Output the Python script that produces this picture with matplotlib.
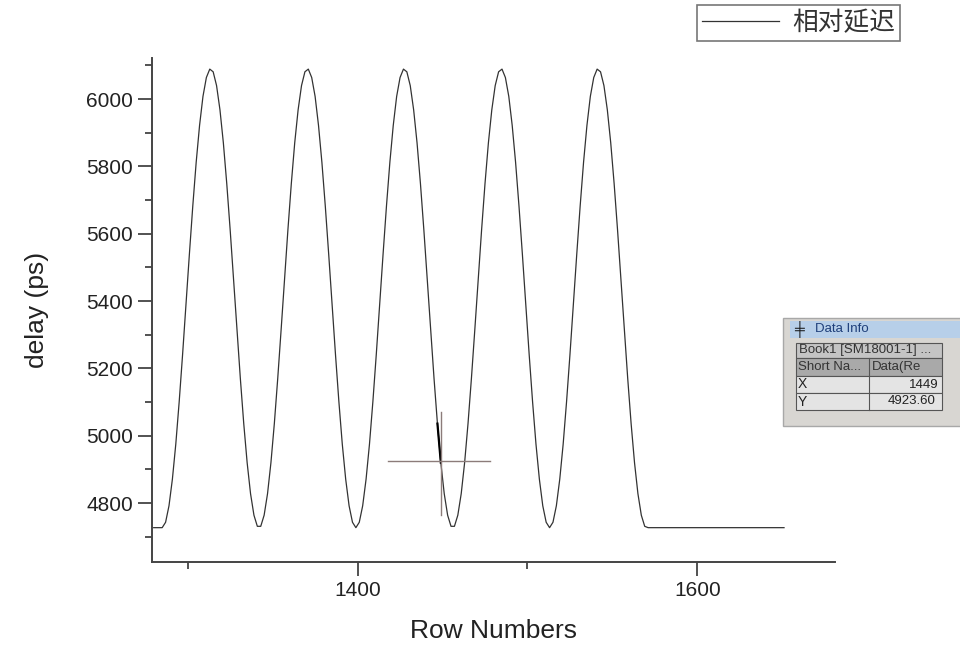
import numpy as np
import matplotlib
matplotlib.use("Agg")
import matplotlib.pyplot as plt
from matplotlib.patches import Rectangle
from matplotlib.lines import Line2D

plt.rcParams['font.family'] = ['Liberation Sans', 'Noto Sans CJK SC', 'DejaVu Sans']

# flat part before / after the oscillation
rows_start = [1280]
delay_start = [4727]
rows_end = [1571, 1651]
delay_end = [4727, 4727]

# oscillating part, every 2nd row from 1285 to 1569
rows_osc = np.arange(1285, 1571, 2)
delay_osc = [
    4727, 4743, 4792, 4871, 4975, 5101, 5241, 5390, 5539, 5682, 5812, 5922, 6008, 6064, 6089,
    6081, 6040, 5968, 5870, 5749, 5612, 5465, 5315, 5170, 5036, 4920, 4828, 4764, 4731,
    4731, 4764, 4828, 4920, 5036, 5170, 5315, 5465, 5612, 5749, 5870, 5968, 6040, 6081,
    6089, 6064, 6008, 5922, 5812, 5682, 5539, 5390, 5241, 5101, 4975, 4871, 4792, 4743,
    4727, 4743, 4792, 4871, 4975, 5101, 5241, 5390, 5539, 5682, 5812, 5922, 6008, 6064, 6089,
    6081, 6040, 5968, 5870, 5749, 5612, 5465, 5315, 5170, 5036, 4920, 4828, 4764, 4731,
    4731, 4764, 4828, 4920, 5036, 5170, 5315, 5465, 5612, 5749, 5870, 5968, 6040, 6081,
    6089, 6064, 6008, 5922, 5812, 5682, 5539, 5390, 5241, 5101, 4975, 4871, 4792, 4743,
    4727, 4743, 4792, 4871, 4975, 5101, 5241, 5390, 5539, 5682, 5812, 5922, 6008, 6064, 6089,
    6081, 6040, 5968, 5870, 5749, 5612, 5465, 5315, 5170, 5036, 4920, 4828, 4764, 4731,
]

rows = np.concatenate([rows_start, rows_osc, rows_end])
delay = np.concatenate([delay_start, delay_osc, delay_end])

# data cursor read-out
cursor_x = 1449
cursor_y = 4923.60
cursor_hspan = (1418, 1478)
cursor_vspan = (4764, 5070)

legend_label = "相对延迟"
xlabel = "Row Numbers"
ylabel = "delay (ps)"

W, H = 960, 662


def fx(px):
    return px / W


def fy(py):
    return 1 - py / H


fig = plt.figure(figsize=(9.6, 6.62), dpi=100)
ax = fig.add_axes([fx(152), fy(562), fx(835) - fx(152), fy(58) - fy(562)])

ax.plot(rows, delay, color='#333333', lw=0.9, label=legend_label)

# highlighted bit of curve under the cursor
sel = (rows >= 1447) & (rows <= 1449)
ax.plot(rows[sel], delay[sel], color='black', lw=1.6)

ax.plot(cursor_hspan, [cursor_y, cursor_y], color='#8c7c7a', lw=1.0)
ax.plot([cursor_x, cursor_x], cursor_vspan, color='#8c7c7a', lw=1.0)

ax.set_xlim(1279, 1681)
ax.set_ylim(4625, 6122)
ax.set_xticks([1400, 1600])
ax.set_xticks([1300, 1500], minor=True)
ax.set_yticks(np.arange(4800, 6001, 200))
ax.set_yticks(np.arange(4700, 6101, 200), minor=True)

for s in ['top', 'right']:
    ax.spines[s].set_visible(False)
for s in ['left', 'bottom']:
    ax.spines[s].set_color('#444444')
    ax.spines[s].set_linewidth(1.4)

ax.tick_params(which='major', direction='out', length=10, width=1.3, colors='#444444',
               labelsize=15, labelcolor='#222222')
ax.tick_params(which='minor', direction='out', length=5, width=1.3, colors='#444444')

ax.set_xlabel(xlabel, fontsize=19, color='#222222', labelpad=14)
ax.set_ylabel(ylabel, fontsize=19, color='#222222', labelpad=27)

leg = ax.legend(loc='upper right', bbox_to_anchor=(fx(900), fy(5)),
                bbox_transform=fig.transFigure, frameon=True, fancybox=False,
                fontsize=18.5, handlelength=3.0, handletextpad=0.5,
                borderpad=0.2, borderaxespad=0)
leg.get_frame().set_edgecolor('#555555')
leg.get_frame().set_linewidth(1.2)
for t in leg.get_texts():
    t.set_color('#333333')
    t.set_family(['Noto Sans CJK SC', 'DejaVu Sans'])

# Data Info window
def box(x0, y0, x1, y1, fc, ec='none', lw=0.8):
    fig.add_artist(Rectangle((fx(x0), fy(y1)), fx(x1) - fx(x0), fy(y0) - fy(y1),
                             transform=fig.transFigure, facecolor=fc, edgecolor=ec, lw=lw))


def txt(x, y, s, ha='left', color='#222222', size=9):
    fig.text(fx(x), fy(y), s, ha=ha, va='center', color=color, fontsize=size,
             family=['Liberation Sans', 'DejaVu Sans'])


box(783, 318, 962, 426, '#d8d6d2', '#a8a8a8', 1.0)
box(790, 321, 962, 338, '#b7cfe9')
txt(794, 329.5, "╪", size=10, color='#111111')
txt(815, 329.5, "Data Info", color='#1f3f7a', size=9.5)
box(796, 343, 942, 358, '#c4c4c4', '#555555')
txt(799, 350.5, "Book1 [SM18001-1] ...", size=9.5, color='#333333')
box(796, 358, 942, 376, '#a9a9a9', '#555555')
txt(798, 367, "Short Na...", size=9.5, color='#333333')
txt(872, 367, "Data(Re", size=9.5, color='#333333')
box(796, 376, 942, 393, '#e4e4e4', '#555555')
txt(798, 384.5, "X", size=10)
txt(939, 384.5, "1449", ha='right', size=9.5)
box(796, 393, 942, 410, '#e4e4e4', '#555555')
txt(798, 401.5, "Y", size=10)
txt(936, 401.5, "4923.60", ha='right', size=9.5)
fig.add_artist(Line2D([fx(869), fx(869)], [fy(358), fy(410)], transform=fig.transFigure,
                      color='#555555', lw=0.8))

fig.savefig("out.png", dpi=100)
